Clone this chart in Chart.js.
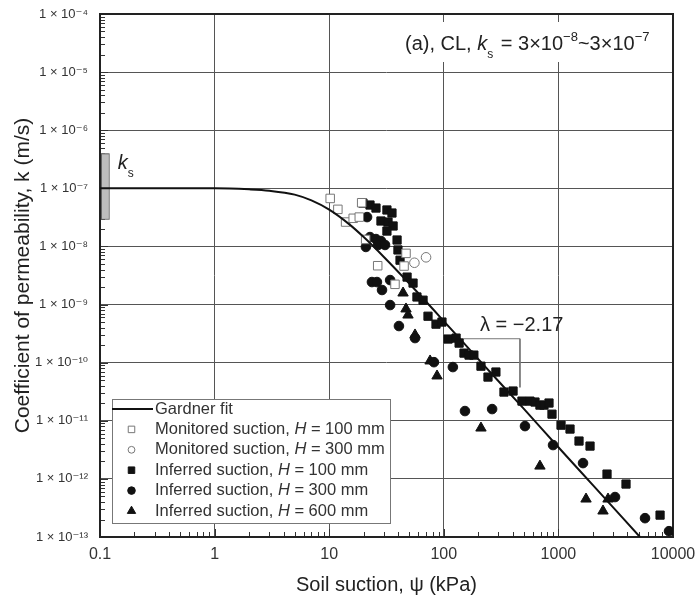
<!DOCTYPE html>
<html>
<head>
<meta charset="utf-8">
<script src="https://cdn.jsdelivr.net/npm/chart.js@4.4.0/dist/chart.umd.min.js"></script>
<style>
  html, body { margin: 0; padding: 0; background: #fff; }
  canvas { display: block; }
</style>
</head>
<body>
<canvas id="chart" width="699" height="599"></canvas>
<script>
// axis ticks
const xTickValues = [0.1, 1, 10, 100, 1000, 10000];
const xTickLabels = ["0.1", "1", "10", "100", "1000", "10000"];
const yTickValues = [1e-13, 1e-12, 1e-11, 1e-10, 1e-9, 1e-8, 1e-7, 1e-6, 1e-5, 1e-4];
const yTickLabels = ["1 × 10⁻¹³", "1 × 10⁻¹²", "1 × 10⁻¹¹", "1 × 10⁻¹⁰", "1 × 10⁻⁹",
                     "1 × 10⁻⁸", "1 × 10⁻⁷", "1 × 10⁻⁶", "1 × 10⁻⁵", "1 × 10⁻⁴"];

// Gardner fit
const fitSuction = [0.1, 1, 2, 3, 5, 7, 10, 15, 20, 30, 50, 100, 200, 500, 1000, 2000, 5150];
const fitK = [1.0e-7, 1.0e-7, 9.6e-8, 9.1e-8, 7.8e-8, 6.2e-8, 4.3e-8, 2.4e-8, 1.45e-8, 6.6e-9,
              2.3e-9, 5.2e-10, 1.15e-10, 1.6e-11, 3.5e-12, 7.8e-13, 1.0e-13];

// monitored suction, H = 100 mm (open squares)
const monH100Suction = [10.2, 11.9, 13.9, 16.2, 18.3, 19.2, 20.8, 26.5, 37.5, 46.8, 45];
const monH100K = [6.7e-8, 4.35e-8, 2.63e-8, 3.05e-8, 3.2e-8, 5.65e-8, 1.32e-8, 4.66e-9, 2.23e-9, 7.6e-9, 4.6e-9];

// monitored suction, H = 300 mm (open circles)
const monH300Suction = [55.4, 70];
const monH300K = [5.24e-9, 6.5e-9];

// inferred suction, H = 100 mm (filled squares)
const infH100Suction = [19.7, 22.7, 25.6, 31.9, 35.3, 28.3, 32.6, 36.1, 31.9, 39.1, 39.8, 41.5, 47.8, 53.9,
                        58.3, 65.9, 72.8, 85.5, 96.4, 109, 128, 136, 150, 166, 183, 211, 243, 285, 335,
                        402, 481, 565, 625, 690, 748, 828, 879, 1054, 1263, 1513, 1888, 2656, 3890, 7710];
const infH100K = [5.58e-8, 5.16e-8, 4.58e-8, 4.24e-8, 3.76e-8, 2.74e-8, 2.63e-8, 2.25e-8, 1.84e-8, 1.29e-8,
                  8.7e-9, 5.8e-9, 2.97e-9, 2.34e-9, 1.35e-9, 1.19e-9, 6.3e-10, 4.6e-10, 5.0e-10, 2.55e-10,
                  2.65e-10, 2.17e-10, 1.46e-10, 1.35e-10, 1.35e-10, 8.7e-11, 5.65e-11, 6.9e-11, 3.12e-11,
                  3.25e-11, 2.18e-11, 2.18e-11, 2.1e-11, 1.86e-11, 1.86e-11, 2.02e-11, 1.3e-11, 8.4e-12,
                  7.2e-12, 4.48e-12, 3.67e-12, 1.21e-12, 8.15e-13, 2.38e-13];

// inferred suction, H = 300 mm (filled circles)
const infH300Suction = [21.4, 22.7, 25.6, 28.3, 20.9, 26.7, 30.7, 23.6, 26.1, 28.9, 34.0, 34.0, 40.6, 56.1,
                        82.0, 120, 153, 264, 511, 898, 1640, 3120, 5700, 9230];
const infH300K = [3.2e-8, 1.45e-8, 1.34e-8, 1.24e-8, 9.8e-9, 1.06e-8, 1.06e-8, 2.44e-9, 2.44e-9, 1.78e-9,
                  2.64e-9, 9.8e-10, 4.27e-10, 2.65e-10, 1.02e-10, 8.4e-11, 1.47e-11, 1.59e-11, 8.1e-12,
                  3.82e-12, 1.87e-12, 4.87e-13, 2.11e-13, 1.26e-13];

// inferred suction, H = 600 mm (filled triangles)
const infH600Suction = [44.1, 46.8, 48.7, 56.1, 75.9, 87.3, 211, 690, 1742, 2450, 2710];
const infH600K = [1.58e-9, 8.4e-10, 6.6e-10, 3.0e-10, 1.07e-10, 5.9e-11, 7.5e-12, 1.66e-12, 4.5e-13, 2.8e-13, 4.5e-13];

// slope bracket for lambda
const slopeSuction = [100, 462, 462];
const slopeK = [2.58e-10, 2.58e-10, 3.76e-11];

// saturated permeability range bar
const ksBarSuction = [0.1, 0.119];
const ksBarK = [3e-8, 4e-7];

const FONT = "'Liberation Sans', Arial, 'DejaVu Sans', sans-serif";

function pts(xs, ys) {
  return xs.map((x, i) => ({ x: x, y: ys[i] }));
}

const legendRows = [
  { kind: "line", parts: [["Gardner fit"]] },
  { kind: "rect", r: 4.6, fill: "#fff", stroke: "#777", parts: [["Monitored suction, "], ["H", "i"], [" = 100 mm"]] },
  { kind: "circle", r: 3.4, fill: "#fff", stroke: "#777", parts: [["Monitored suction, "], ["H", "i"], [" = 300 mm"]] },
  { kind: "rect", r: 4.6, fill: "#111", stroke: "#111", parts: [["Inferred suction, "], ["H", "i"], [" = 100 mm"]] },
  { kind: "circle", r: 3.8, fill: "#111", stroke: "#111", parts: [["Inferred suction, "], ["H", "i"], [" = 300 mm"]] },
  { kind: "triangle", r: 4.8, fill: "#111", stroke: "#111", parts: [["Inferred suction, "], ["H", "i"], [" = 600 mm"]] }
];

// draws text made of parts: [text, style] where style: "i" italic, "sub", "sup"
function drawRich(ctx, parts, x, y, size) {
  ctx.textBaseline = "middle";
  ctx.textAlign = "left";
  parts.forEach(p => {
    const st = p[1] || "";
    let s = size, dy = 0, it = "";
    if (st === "i") it = "italic ";
    if (st === "sub") { s = size * 0.6; dy = size * 0.35; }
    if (st === "sup") { s = size * 0.65; dy = -size * 0.35; }
    ctx.font = it + s + "px " + FONT;
    ctx.fillText(p[0], x, y + dy);
    x += ctx.measureText(p[0]).width;
  });
  return x;
}

const decor = {
  id: "decor",
  beforeDatasetsDraw(chart) {
    const { ctx, chartArea: a, scales: { x, y } } = chart;
    ctx.save();
    // minor ticks inside the axes
    ctx.strokeStyle = "#333";
    ctx.lineWidth = 1;
    ctx.beginPath();
    for (let e = -13; e < -4; e++) {
      for (let m = 1; m <= 9; m++) {
        const py = Math.round(y.getPixelForValue(m * Math.pow(10, e))) + 0.5;
        const len = m === 1 ? 8 : 5;
        ctx.moveTo(a.left, py); ctx.lineTo(a.left + len, py);
      }
    }
    for (let e = -1; e < 4; e++) {
      for (let m = 1; m <= 9; m++) {
        const px = Math.round(x.getPixelForValue(m * Math.pow(10, e))) + 0.5;
        const len = m === 1 ? 8 : 5;
        ctx.moveTo(px, a.bottom); ctx.lineTo(px, a.bottom - len);
      }
    }
    ctx.stroke();
    // frame
    ctx.strokeStyle = "#222";
    ctx.lineWidth = 2;
    ctx.strokeRect(a.left, a.top, a.right - a.left, a.bottom - a.top);

    // ks bar
    const bx0 = x.getPixelForValue(ksBarSuction[0]) + 1;
    const bx1 = x.getPixelForValue(ksBarSuction[1]);
    const by0 = y.getPixelForValue(ksBarK[1]);
    const by1 = y.getPixelForValue(ksBarK[0]);
    ctx.fillStyle = "#bdbdbd";
    ctx.strokeStyle = "#666";
    ctx.lineWidth = 1;
    ctx.fillRect(bx0, by0, bx1 - bx0, by1 - by0);
    ctx.strokeRect(bx0 + 0.5, by0 + 0.5, bx1 - bx0, by1 - by0);

    // ks label
    ctx.fillStyle = "#222";
    drawRich(ctx, [["k", "i"]], bx1 + 9, by0 + 10, 20);
    drawRich(ctx, [["s", "sub"]], bx1 + 19, by0 + 13, 20);

    // top-right annotation on a white patch
    ctx.fillStyle = "#fff";
    ctx.fillRect(400, a.top + 8, a.right - 402, 40);
    ctx.fillStyle = "#222";
    let tx = drawRich(ctx, [["(a), CL, "], ["k", "i"]], 405, 44, 20);
    tx = drawRich(ctx, [["s", "sub"]], tx, 48, 20);
    tx = drawRich(ctx, [[" = 3×10"], ["−8", "sup"], ["~3×10"], ["−7", "sup"]], tx + 2, 44, 20);

    // lambda label
    drawRich(ctx, [["λ = −2.17"]], 480, 325, 20);
    ctx.restore();
  },
  afterDatasetsDraw(chart) {
    const { ctx, chartArea: a } = chart;
    ctx.save();
    const L = a.left + 12, T = 399, W = 278, H = 124;
    ctx.fillStyle = "#fff";
    ctx.fillRect(L, T, W, H);
    ctx.strokeStyle = "#777";
    ctx.lineWidth = 1;
    ctx.strokeRect(L + 0.5, T + 0.5, W, H);
    legendRows.forEach((r, i) => {
      const ry = T + 10 + i * 20.4;
      if (r.kind === "line") {
        ctx.strokeStyle = "#111";
        ctx.lineWidth = 2;
        ctx.beginPath();
        ctx.moveTo(L, ry); ctx.lineTo(L + 41, ry);
        ctx.stroke();
      } else {
        ctx.fillStyle = r.fill;
        ctx.strokeStyle = r.stroke;
        ctx.lineWidth = 1;
        Chart.helpers.drawPoint(ctx, { pointStyle: r.kind, radius: r.r, rotation: 0, borderWidth: 1 }, L + 19.5, ry);
      }
      ctx.fillStyle = "#333";
      drawRich(ctx, r.parts, L + 43, ry, 16.5);
    });
    ctx.restore();
  }
};

const markerOpen = { backgroundColor: "#fff", borderColor: "#777", borderWidth: 1 };
const markerFill = { backgroundColor: "#111", borderColor: "#111", borderWidth: 1 };

new Chart(document.getElementById("chart"), {
  type: "scatter",
  data: {
    datasets: [
      { label: "Gardner fit", data: pts(fitSuction, fitK), showLine: true, borderColor: "#111",
        borderWidth: 2, pointRadius: 0, cubicInterpolationMode: "monotone" },
      Object.assign({ label: "Monitored suction, H = 100 mm", data: pts(monH100Suction, monH100K),
        pointStyle: "rect", pointRadius: 6 }, markerOpen),
      Object.assign({ label: "Monitored suction, H = 300 mm", data: pts(monH300Suction, monH300K),
        pointStyle: "circle", pointRadius: 4.8 }, markerOpen),
      Object.assign({ label: "Inferred suction, H = 100 mm", data: pts(infH100Suction, infH100K),
        pointStyle: "rect", pointRadius: 5.8 }, markerFill),
      Object.assign({ label: "Inferred suction, H = 300 mm", data: pts(infH300Suction, infH300K),
        pointStyle: "circle", pointRadius: 4.8 }, markerFill),
      Object.assign({ label: "Inferred suction, H = 600 mm", data: pts(infH600Suction, infH600K),
        pointStyle: "triangle", pointRadius: 6 }, markerFill),
      { label: "slope", data: pts(slopeSuction, slopeK), showLine: true, borderColor: "#777",
        borderWidth: 1, pointRadius: 0, tension: 0 }
    ]
  },
  options: {
    responsive: false,
    animation: false,
    layout: { padding: { left: 0, top: 14, right: 26, bottom: 0 } },
    plugins: { legend: { display: false }, tooltip: { enabled: false } },
    scales: {
      x: {
        type: "logarithmic",
        min: 0.1, max: 10000,
        afterBuildTicks: s => { s.ticks = xTickValues.map(v => ({ value: v })); },
        afterFit: s => { s.height = 62; s.paddingLeft = 0; s.paddingRight = 0; },
        ticks: { callback: (v, i) => xTickLabels[i], maxRotation: 0, autoSkip: false, padding: 8,
                 color: "#333", font: { family: FONT, size: 16 } },
        grid: { color: "#555", lineWidth: 1, drawTicks: false },
        border: { display: false },
        title: { display: true, text: "Soil suction, ψ (kPa)", color: "#222",
                 font: { family: FONT, size: 20 }, padding: { top: 0, bottom: 2 } }
      },
      y: {
        type: "logarithmic",
        min: 1e-13, max: 1e-4,
        afterBuildTicks: s => { s.ticks = yTickValues.map(v => ({ value: v })); },
        afterFit: s => { s.width = 100; s.paddingTop = 0; s.paddingBottom = 0; },
        ticks: { callback: (v, i) => yTickLabels[i], autoSkip: false, padding: 12,
                 color: "#333", font: { family: FONT, size: 13 } },
        grid: { color: "#555", lineWidth: 1, drawTicks: false },
        border: { display: false },
        title: { display: true, text: "Coefficient of permeability, k (m/s)", color: "#222",
                 font: { family: FONT, size: 21 }, padding: { top: 11, bottom: 0 } }
      }
    }
  },
  plugins: [decor]
});
</script>
</body>
</html>
